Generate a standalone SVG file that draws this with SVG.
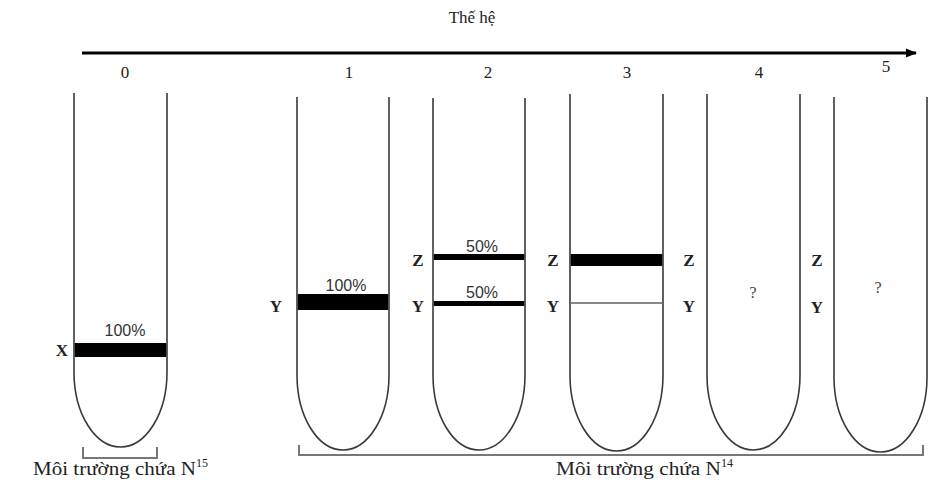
<svg xmlns="http://www.w3.org/2000/svg" width="937" height="490" viewBox="0 0 937 490">
<style>
.tube{fill:none;stroke:#3a3a3a;stroke-width:1.6}
.br{fill:none;stroke:#777;stroke-width:2}
.band{fill:#000}
.lbl{font-family:"Liberation Serif",serif;font-weight:bold;font-size:17px;fill:#222;text-anchor:middle}
.pct{font-family:"Liberation Sans",sans-serif;font-size:16px;fill:#333;text-anchor:middle}
.num{font-family:"Liberation Serif",serif;font-size:17px;fill:#222;text-anchor:middle}
.q{font-family:"Liberation Serif",serif;font-size:16px;fill:#444;text-anchor:middle}
.cap{font-family:"Liberation Serif",serif;font-size:19px;fill:#222}
.sup{font-family:"Liberation Serif",serif;font-size:12px;fill:#222}
</style>
<defs>
<marker id="ah" markerWidth="12" markerHeight="12" refX="10" refY="6" orient="auto" markerUnits="userSpaceOnUse">
<path d="M0,1.5 L11,6 L0,10.5 Z" fill="#000"/>
</marker>
</defs>
<text x="472" y="23" class="num">Thế hệ</text>
<g id="connectors">
<line x1="82" y1="53" x2="916" y2="53" stroke="#000" stroke-width="3" marker-end="url(#ah)"/>
<path class="br" d="M83,447 V458 H157 V447"/>
<path class="br" d="M299,445 V455 H923 V445"/>
</g>
<g id="labels">
<text x="125" y="78" class="num">0</text>
<text x="349" y="78" class="num">1</text>
<text x="488" y="78" class="num">2</text>
<text x="627" y="78" class="num">3</text>
<text x="759" y="78" class="num">4</text>
<text x="886" y="72" class="num">5</text>
</g>
<g id="tube0">
<path class="tube" d="M74,93 V372 A46.5,75 0 0 0 167,372 V93"/>
<rect class="band" x="74.8" y="343" width="91.4" height="14"/>
<text x="125" y="336" class="pct">100%</text>
<text x="62" y="356" class="lbl">X</text>
</g>
<g id="tube1">
<path class="tube" d="M297,97 V375 A46,75 0 0 0 389,375 V97"/>
<rect class="band" x="297.8" y="294" width="90.4" height="16"/>
<text x="346" y="291" class="pct">100%</text>
<text x="276" y="312" class="lbl">Y</text>
</g>
<g id="tube2">
<path class="tube" d="M433,98 V375 A46,75 0 0 0 525,375 V98"/>
<rect class="band" x="433.8" y="254" width="90.4" height="6"/>
<rect class="band" x="433.8" y="301" width="90.4" height="5"/>
<text x="482" y="252" class="pct">50%</text>
<text x="482" y="298" class="pct">50%</text>
<text x="418" y="266" class="lbl">Z</text>
<text x="418" y="312" class="lbl">Y</text>
</g>
<g id="tube3">
<path class="tube" d="M570,94 V375 A46.5,76 0 0 0 663,375 V94"/>
<rect class="band" x="570.8" y="254" width="91.4" height="12"/>
<rect x="570.8" y="302" width="91.4" height="2" fill="#888"/>
<text x="553" y="266" class="lbl">Z</text>
<text x="553" y="312" class="lbl">Y</text>
<text x="689" y="266" class="lbl">Z</text>
<text x="689" y="312" class="lbl">Y</text>
</g>
<g id="tube4">
<path class="tube" d="M707,94 V375 A46.5,75 0 0 0 800,375 V94"/>
<text x="753" y="298" class="q">?</text>
</g>
<g id="tube5">
<path class="tube" d="M834,97 V377 A46.5,75 0 0 0 927,377 V97"/>
<text x="878" y="293" class="q">?</text>
<text x="817" y="266" class="lbl">Z</text>
<text x="817" y="313" class="lbl">Y</text>
</g>
<g id="captions">
<text x="33" y="475" class="cap" textLength="163" lengthAdjust="spacingAndGlyphs">Môi trường chứa N</text>
<text x="196" y="467" class="sup">15</text>
<text x="556" y="475" class="cap" textLength="165" lengthAdjust="spacingAndGlyphs">Môi trường chứa N</text>
<text x="721" y="467" class="sup">14</text>
</g>
</svg>
